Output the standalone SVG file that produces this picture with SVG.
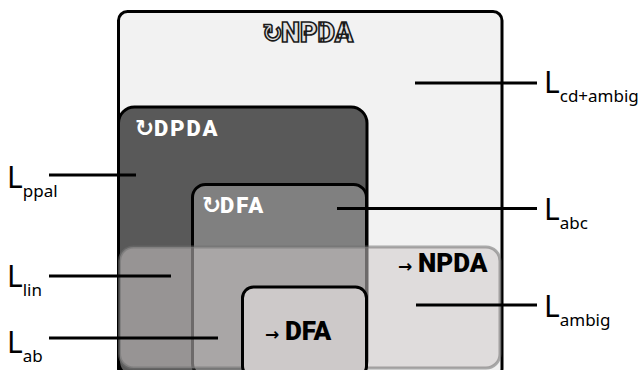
<svg xmlns="http://www.w3.org/2000/svg" width="643" height="370" viewBox="0 0 643 370">
<style>
.box{stroke:#000;stroke-width:3}
.title{font-family:Roboto,Inter,"DejaVu Sans",sans-serif;font-weight:900}
.sym{font-family:"DejaVu Sans",sans-serif;font-weight:bold}
.lab{font-family:"Noto Sans",sans-serif;font-size:30px;fill:#000}
.sub{font-size:17px}
.conn line{stroke:#000;stroke-width:3}
</style>
<rect width="643" height="370" fill="#fff"/>
<g id="npda">
<rect class="box" x="118.5" y="11.5" width="383.5" height="366" rx="9" fill="#f2f2f2"/>
<text x="262" y="42" fill="#e2e2e2" stroke="#1a1a1a" stroke-width="1.6"><tspan class="sym" font-size="25">↻</tspan><tspan class="title" x="281" font-size="27">NPDA</tspan></text>
</g>
<g id="dpda">
<rect class="box" x="118.5" y="107" width="248.5" height="270" rx="16" fill="#595959"/>
<text x="135" y="136" fill="#fff"><tspan class="sym" font-size="23">↻</tspan><tspan class="title" x="154" font-size="22" letter-spacing="2">DPDA</tspan></text>
</g>
<g id="dfa">
<rect class="box" x="192.5" y="184.5" width="174" height="192" rx="13" fill="#808080"/>
<text x="202" y="213" fill="#fff"><tspan class="sym" font-size="23">↻</tspan><tspan class="title" x="220" font-size="22" letter-spacing="2">DFA</tspan></text>
</g>
<g id="init-npda">
<rect x="119.5" y="247" width="380.5" height="121" rx="14" fill="rgb(206,200,200)" fill-opacity="0.53" stroke="#707070" stroke-opacity="0.55" stroke-width="3"/>
<text x="398" y="272" fill="#000"><tspan class="sym" font-size="17">→</tspan><tspan class="title" x="418" font-size="26">NPDA</tspan></text>
</g>
<g id="init-dfa">
<rect class="box" x="242.5" y="287" width="124" height="90" rx="11" fill="#cdc9c9"/>
<text x="265" y="340" fill="#000"><tspan class="sym" font-size="17">→</tspan><tspan class="title" x="285" font-size="26">DFA</tspan></text>
</g>
<g class="conn" id="connectors">
<line x1="415" y1="83" x2="537" y2="83"/>
<line x1="337" y1="208.5" x2="537" y2="208.5"/>
<line x1="416" y1="305" x2="537" y2="305"/>
<line x1="49" y1="175" x2="136" y2="175"/>
<line x1="49" y1="276" x2="171" y2="276"/>
<line x1="49" y1="338" x2="218" y2="338"/>
</g>
<g id="labels">
<text class="lab" x="544" y="93">L<tspan class="sub" dy="9">cd+ambig</tspan></text>
<text class="lab" x="544" y="220">L<tspan class="sub" dy="9">abc</tspan></text>
<text class="lab" x="544" y="317">L<tspan class="sub" dy="9">ambig</tspan></text>
<text class="lab" x="7" y="188">L<tspan class="sub" dy="9">ppal</tspan></text>
<text class="lab" x="7" y="287">L<tspan class="sub" dy="9">lin</tspan></text>
<text class="lab" x="7" y="353">L<tspan class="sub" dy="9">ab</tspan></text>
</g>
</svg>
